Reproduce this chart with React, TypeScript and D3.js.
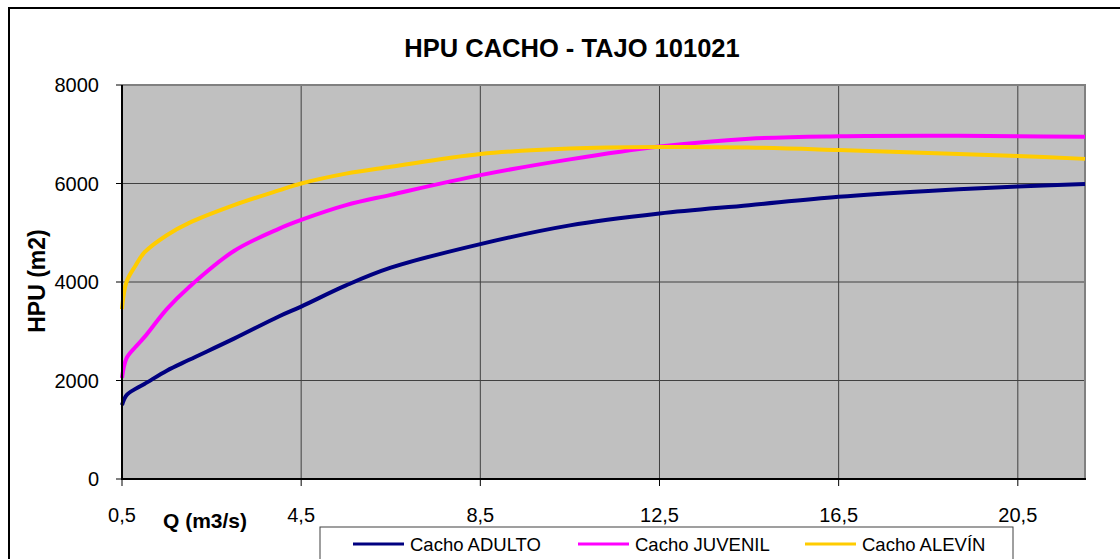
import React from 'react';
import * as d3 from 'd3';

// Q (m3/s) sample points and HPU (m2)
const caudales = [0.5, 0.6, 0.8, 1, 1.5, 2, 3, 4, 4.5, 5.5, 6.5, 8.5, 10.5, 12.5, 14.5, 16.5, 18.5, 20.5, 22];
const adulto = [1500, 1700, 1830, 1930, 2200, 2420, 2850, 3300, 3500, 3930, 4290, 4770, 5150, 5390, 5560, 5730, 5850, 5940, 5990];
const juvenil = [2050, 2450, 2680, 2880, 3450, 3900, 4630, 5080, 5260, 5560, 5770, 6170, 6490, 6750, 6910, 6960, 6970, 6960, 6950];
const alevin = [3450, 4000, 4330, 4600, 4950, 5200, 5560, 5860, 6000, 6200, 6340, 6600, 6710, 6740, 6730, 6680, 6620, 6560, 6500];

const xTicks = [0.5, 4.5, 8.5, 12.5, 16.5, 20.5];
const yTicks = [0, 2000, 4000, 6000, 8000];

const series = [
  { name: 'Cacho ADULTO', values: adulto, color: '#000080' },
  { name: 'Cacho JUVENIL', values: juvenil, color: '#FF00FF' },
  { name: 'Cacho ALEVÍN', values: alevin, color: '#FFCC00' },
];

const W = 1120;
const H = 559;
const plot = { left: 122, right: 1085, top: 85, bottom: 479 };
const font = 'Arial, "Liberation Sans", sans-serif';

const App = () => {
  const x = d3.scaleLinear().domain([0.5, 22]).range([plot.left, plot.right]);
  const y = d3.scaleLinear().domain([0, 8000]).range([plot.bottom, plot.top]);

  const line = d3.line<number>()
    .x((_, i) => x(caudales[i]))
    .y(d => y(d))
    .curve(d3.curveCatmullRom.alpha(0.5));

  const legendPos = [
    { lx: 353, tx: 410 },
    { lx: 578, tx: 635 },
    { lx: 805, tx: 862 },
  ];

  return (
    <svg width={W} height={H} style={{ position: 'absolute', left: 0, top: 0, background: '#fff' }}>
      {/* outer chart frame */}
      <rect x={9} y={8} width={1200} height={700} fill="#fff" stroke="#000" strokeWidth={2} />

      <text x={572} y={57} textAnchor="middle" fontFamily={font} fontWeight="bold" fontSize={25.5}>
        HPU CACHO - TAJO 101021
      </text>

      {/* plot area */}
      <rect x={plot.left} y={plot.top} width={plot.right - plot.left} height={plot.bottom - plot.top} fill="#C0C0C0" />

      {yTicks.slice(1, -1).map(t => (
        <line key={'gy' + t} x1={plot.left} x2={plot.right} y1={y(t)} y2={y(t)} stroke="#404040" strokeWidth={1} />
      ))}
      {xTicks.slice(1).map(t => (
        <line key={'gx' + t} x1={x(t)} x2={x(t)} y1={plot.top} y2={plot.bottom} stroke="#404040" strokeWidth={1} />
      ))}

      {/* gray top/right border */}
      <path
        d={`M${plot.left},${plot.top}H${plot.right}V${plot.bottom}`}
        fill="none"
        stroke="#808080"
        strokeWidth={2}
      />

      {series.map(s => (
        <path key={s.name} d={line(s.values) ?? ''} fill="none" stroke={s.color} strokeWidth={4} strokeLinejoin="round" />
      ))}

      {/* axes */}
      <line x1={plot.left} x2={plot.left} y1={plot.top} y2={plot.bottom + 1} stroke="#000" strokeWidth={2} />
      <line x1={plot.left} x2={plot.right + 1} y1={plot.bottom} y2={plot.bottom} stroke="#000" strokeWidth={2} />

      {yTicks.map(t => (
        <g key={'ty' + t}>
          <line x1={plot.left - 6} x2={plot.left} y1={y(t)} y2={y(t)} stroke="#000" strokeWidth={1} />
          <text x={99} y={y(t)} dy="0.36em" textAnchor="end" fontFamily={font} fontSize={20}>
            {t}
          </text>
        </g>
      ))}
      {xTicks.map(t => (
        <g key={'tx' + t}>
          <line x1={x(t)} x2={x(t)} y1={plot.bottom} y2={plot.bottom + 7} stroke="#000" strokeWidth={1} />
          <text x={x(t)} y={522} textAnchor="middle" fontFamily={font} fontSize={20}>
            {String(t).replace('.', ',')}
          </text>
        </g>
      ))}

      <text x={163} y={528} fontFamily={font} fontWeight="bold" fontSize={21}>
        Q (m3/s)
      </text>
      <text
        transform="translate(45,281) rotate(-90)"
        textAnchor="middle"
        fontFamily={font}
        fontWeight="bold"
        fontSize={23}
      >
        HPU (m2)
      </text>

      {/* legend */}
      <rect x={320} y={527} width={693} height={60} fill="#fff" stroke="#404040" strokeWidth={1} />
      {series.map((s, i) => (
        <g key={'lg' + s.name}>
          <line x1={legendPos[i].lx} x2={legendPos[i].lx + 51} y1={544} y2={544} stroke={s.color} strokeWidth={3} />
          <text x={legendPos[i].tx} y={551} fontFamily={font} fontSize={18.5}>
            {s.name}
          </text>
        </g>
      ))}
    </svg>
  );
};

export default App;
